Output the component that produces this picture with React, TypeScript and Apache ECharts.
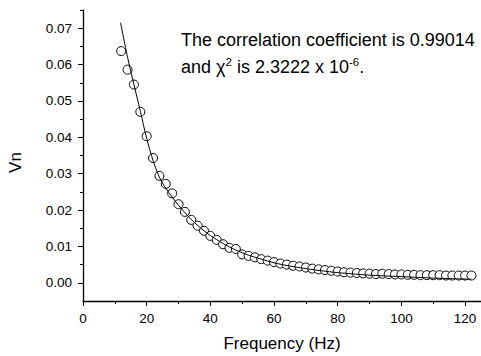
import React, { useEffect, useRef } from 'react';
import * as echarts from 'echarts';

// Measured points (frequency in Hz, Vn)
const freqHz = [
  12, 14, 16, 18, 20, 22, 24, 26, 28, 30, 32, 34, 36, 38, 40, 42, 44, 46, 48, 50,
  52, 54, 56, 58, 60, 62, 64, 66, 68, 70, 72, 74, 76, 78, 80, 82, 84, 86, 88, 90,
  92, 94, 96, 98, 100, 102, 104, 106, 108, 110, 112, 114, 116, 118, 120, 122,
];
const vnMeasured = [
  0.0637, 0.0586, 0.0545, 0.047, 0.0403, 0.0343, 0.0294, 0.0272, 0.0246, 0.0216,
  0.0195, 0.0173, 0.0157, 0.0143, 0.0129, 0.0118, 0.0106, 0.0096, 0.0093, 0.0078,
  0.0074, 0.007, 0.0065, 0.0061, 0.0057, 0.0053, 0.005, 0.0047, 0.0045, 0.0042,
  0.0039, 0.0037, 0.0035, 0.0033, 0.0031, 0.0029, 0.0028, 0.0027, 0.0026, 0.0025,
  0.0024, 0.0025, 0.0024, 0.0023, 0.0023, 0.0022, 0.0022, 0.0021, 0.0021, 0.0021,
  0.0021, 0.002, 0.002, 0.002, 0.002, 0.002,
];

// Fitted curve
const fitFreqHz = [
  11.8, 14, 16, 18, 20, 22, 24, 26, 28, 30, 32, 34, 36, 38, 40, 44, 48, 52, 56, 60,
  65, 70, 75, 80, 90, 100, 110, 122,
];
const fitVn = [
  0.0715, 0.062, 0.0545, 0.0472, 0.0397, 0.0336, 0.029, 0.026, 0.0236, 0.0213,
  0.0193, 0.0174, 0.0158, 0.0143, 0.013, 0.0108, 0.009, 0.0076, 0.0065, 0.0055,
  0.0046, 0.0039, 0.0033, 0.0028, 0.0021, 0.0017, 0.0013, 0.001,
];

// Axis ticks
const xMajorTicks = [0, 20, 40, 60, 80, 100, 120];
const xMinorTicks = [10, 30, 50, 70, 90, 110];
const yMajorTicks = [0, 0.01, 0.02, 0.03, 0.04, 0.05, 0.06, 0.07];
const yMinorTicks = [0.005, 0.015, 0.025, 0.035, 0.045, 0.055, 0.065, 0.075];

const xAxisTitle = 'Frequency (Hz)';
const yAxisTitle = 'Vn';
const noteLine1 = 'The correlation coefficient is 0.99014';
const noteLine2 = 'and {chi|χ}{sup|2} is 2.3222 x 10{sup|-6}.';

const FONT = '"Liberation Sans", Arial, Helvetica, sans-serif';

export default function App() {
  const ref = useRef<HTMLDivElement>(null);

  useEffect(() => {
    if (!ref.current) return;
    const chart = echarts.init(ref.current, undefined, { renderer: 'svg' });
    const axisLineStyle = { color: '#000', width: 1.3 };
    const tickLineStyle = { color: '#000', width: 1 };

    chart.setOption({
      animation: false,
      backgroundColor: '#fff',
      grid: { left: 83, right: 0, top: 10, bottom: 55, containLabel: false, outerBoundsMode: 'none' },
      xAxis: [
        {
          type: 'value',
          min: 0,
          max: 125,
          position: 'bottom',
          splitLine: { show: false },
          axisLine: { show: true, onZero: false, lineStyle: axisLineStyle },
          axisTick: { show: true, length: 3, customValues: xMinorTicks, lineStyle: tickLineStyle },
          axisLabel: {
            customValues: xMajorTicks,
            color: '#000',
            fontSize: 13.5,
            fontFamily: FONT,
            margin: 10,
          },
          name: xAxisTitle,
          nameLocation: 'middle',
          nameGap: 34,
          nameTextStyle: { color: '#000', fontSize: 17, fontFamily: FONT },
        },
        {
          type: 'value',
          min: 0,
          max: 125,
          position: 'bottom',
          splitLine: { show: false },
          axisLine: { show: false, onZero: false },
          axisTick: { show: true, length: 5, customValues: xMajorTicks, lineStyle: tickLineStyle },
          axisLabel: { show: false },
        },
      ],
      yAxis: [
        {
          type: 'value',
          min: -0.005,
          max: 0.075,
          position: 'left',
          splitLine: { show: false },
          axisLine: { show: true, onZero: false, lineStyle: axisLineStyle },
          axisTick: { show: true, length: 3, customValues: yMinorTicks, lineStyle: tickLineStyle },
          axisLabel: {
            customValues: yMajorTicks,
            formatter: (v: number) => v.toFixed(2),
            color: '#000',
            fontSize: 13.5,
            fontFamily: FONT,
            margin: 11,
          },
          name: yAxisTitle,
          nameLocation: 'middle',
          nameGap: 59,
          nameRotate: 90,
          nameTextStyle: { color: '#000', fontSize: 17, fontFamily: FONT, padding: [0, 14, 0, 0] },
        },
        {
          type: 'value',
          min: -0.005,
          max: 0.075,
          position: 'left',
          splitLine: { show: false },
          axisLine: { show: false, onZero: false },
          axisTick: { show: true, length: 5, customValues: yMajorTicks, lineStyle: tickLineStyle },
          axisLabel: { show: false },
        },
      ],
      series: [
        {
          type: 'scatter',
          name: 'Measured',
          data: freqHz.map((f, i) => [f, vnMeasured[i]]),
          symbol: 'circle',
          symbolSize: 9,
          itemStyle: { color: '#fff', borderColor: '#000', borderWidth: 1, opacity: 1 },
          z: 2,
        },
        {
          type: 'line',
          name: 'Fit',
          data: fitFreqHz.map((f, i) => [f, fitVn[i]]),
          showSymbol: false,
          symbol: 'none',
          smooth: 0.3,
          lineStyle: { color: '#000', width: 1 },
          z: 3,
        },
      ],
      graphic: [
        {
          type: 'text',
          x: 181,
          y: 29,
          style: {
            text: noteLine1,
            fontSize: 18,
            fontFamily: FONT,
            fill: '#000',
            lineHeight: 22,
            verticalAlign: 'top',
          },
          z: 10,
        },
        {
          type: 'text',
          x: 181,
          y: 56,
          style: {
            text: noteLine2,
            fontSize: 18,
            fontFamily: FONT,
            fill: '#000',
            lineHeight: 22,
            verticalAlign: 'top',
            rich: {
              chi: { fontSize: 18, fontFamily: FONT, lineHeight: 22 },
              sup: { fontSize: 11.5, fontFamily: FONT, lineHeight: 11, verticalAlign: 'top' },
            },
          },
          z: 10,
        },
      ],
    });

    return () => chart.dispose();
  }, []);

  return (
    <div
      ref={ref}
      style={{ position: 'fixed', left: 0, top: 0, width: 481, height: 356, background: '#fff' }}
    />
  );
}
